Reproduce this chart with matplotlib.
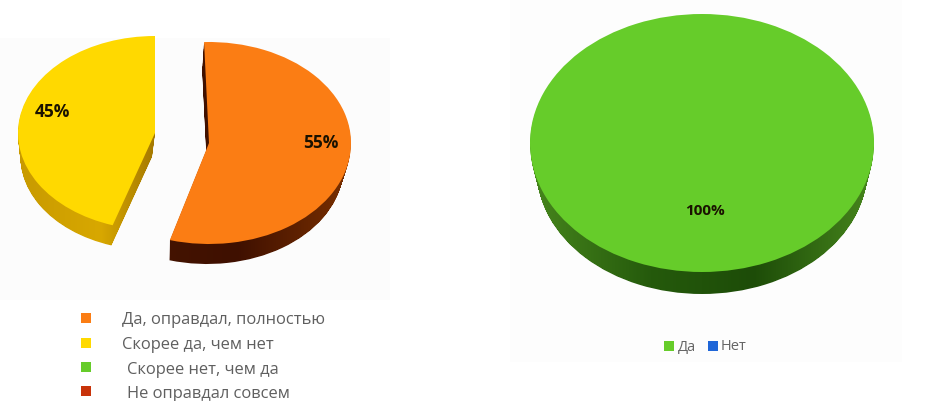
#! /usr/bin/env python
#-*- coding:utf-8 -*-

import numpy as np
from matplotlib import pyplot as plt
from matplotlib.colors import LinearSegmentedColormap
from matplotlib.path import Path
from matplotlib.patches import Rectangle
from matplotlib.transforms import IdentityTransform

plt.rcParams['font.family'] = ['Open Sans', 'DejaVu Sans']

W, H = 948, 401

# данные
left_categories = ['Да, оправдал, полностью', 'Скорее да, чем нет',
                   'Скорее нет, чем да', 'Не оправдал совсем']
left_values = [55, 45, 0, 0]
left_colors = ['#fb7d14', '#ffd900', '#66cc2a', '#c8330a']

right_categories = ['Да', 'Нет']
right_values = [100, 0]
right_colors = ['#66cc2a', '#1f66d8']

fig = plt.figure(figsize=(W/100, H/100), dpi=100, facecolor='white')


def pixel_axes(zorder):
    ax = fig.add_axes([0, 0, 1, 1], zorder=zorder)
    ax.set_xlim(0, W)
    ax.set_ylim(H, 0)
    ax.axis('off')
    return ax


def slice_3d(values, idx, colors, cx, cy, a, b, depth, shade, start=90, shift_x=0, taper=0.04):
    # круг диаграммы сжат в эллипс размером самих осей, толщина - стопка сдвинутых секторов
    # нижние слои чуть меньше, поэтому по бокам толщина сходит на нет
    pad = 1.08
    xr, yt, yb = a*pad, b*pad, b*pad + depth
    ax = fig.add_axes([(cx-xr)/W, 1-(cy+yb)/H, 2*xr/W, (yt+yb)/H], zorder=2)
    layers = []
    for step in range(depth, 0, -1):
        part = step/depth
        wedges, _ = ax.pie(values, colors=colors, startangle=start, counterclock=False,
                           radius=1 - taper*part,
                           center=(shift_x*part/a, -step/b - taper*part),
                           wedgeprops={'linewidth': 0})
        for w in wedges:
            w.set_visible(False)
        layers.append(wedges[idx])
    top, _ = ax.pie(values, colors=colors, startangle=start, counterclock=False,
                    wedgeprops={'linewidth': 0})
    for i, w in enumerate(top):
        w.set_zorder(3)
        w.set_visible(i == idx)
    ax.set_aspect('auto')
    ax.set_xlim(-pad, pad)
    ax.set_ylim(-yb/b, yt/b)
    ax.set_xticks([])
    ax.set_yticks([])
    ax.axis('off')

    cmap = LinearSegmentedColormap.from_list('side', shade)
    img = ax.imshow(np.linspace(0, 1, 256)[None, :], cmap=cmap, aspect='auto',
                    extent=(-1, 1, -yb/b, 1), zorder=1)
    paths = [w.get_transform().transform_path(w.get_path()) for w in layers]
    img.set_clip_path(Path.make_compound_path(*paths), IdentityTransform())
    ax.set_xlim(-pad, pad)
    ax.set_ylim(-yb/b, yt/b)


base = pixel_axes(0)
base.add_patch(Rectangle((0, 38), 390, 262, color='#fcfcfc', lw=0))
base.add_patch(Rectangle((510, 0), 392, 362, color='#fdfdfd', lw=0))

# левая диаграмма
slice_3d(left_values, 0, left_colors, 209, 143, 142, 101, 20,
         [(0, '#4a1700'), (0.6, '#3f1000'), (1, '#7a3000')], start=92, shift_x=-2)
slice_3d(left_values, 1, left_colors, 155, 133, 137, 97, 20,
         [(0, '#c89a00'), (0.3, '#d8a800'), (0.6, '#8a6000'), (0.655, '#8a6000'),
          (0.67, '#e6b400'), (1, '#e6b400')], shift_x=-3)

# правая диаграмма
slice_3d(right_values, 0, right_colors, 702, 143, 172, 129, 22,
         [(0, '#47861d'), (0.35, '#255a0c'), (0.65, '#1d4c08'), (1, '#47861d')])

top = pixel_axes(5)
label_font = {'fontweight': 'bold', 'fontsize': 12.5, 'color': '#1a1200',
              'ha': 'center', 'va': 'center'}
top.text(52, 112, f'{left_values[1]}%', **label_font)
top.text(321, 142.5, f'{left_values[0]}%', **label_font)
top.text(705, 211, f'{right_values[0]}%', **{**label_font, 'fontsize': 11})

# легенды
left_text_x = [122, 122, 127, 127]
left_y = [320.5, 345, 369.5, 393.5]
for name, color, tx, y in zip(left_categories, left_colors, left_text_x, left_y):
    top.scatter([86], [y-2.5], marker='s', s=62, color=color, linewidths=0)
    top.text(tx, y, name, fontsize=11.9, color='#5f5f5f', ha='left', va='center')

right_marker_x = [669, 713]
right_text_x = [678, 721]
for name, color, mx, tx in zip(right_categories, right_colors, right_marker_x, right_text_x):
    top.scatter([mx], [346], marker='s', s=62, color=color, linewidths=0)
    top.text(tx, 347, name, fontsize=10.5, color='#666666', ha='left', va='center')
top.set_xlim(0, W)
top.set_ylim(H, 0)

fig.savefig('out.png', dpi=100)
